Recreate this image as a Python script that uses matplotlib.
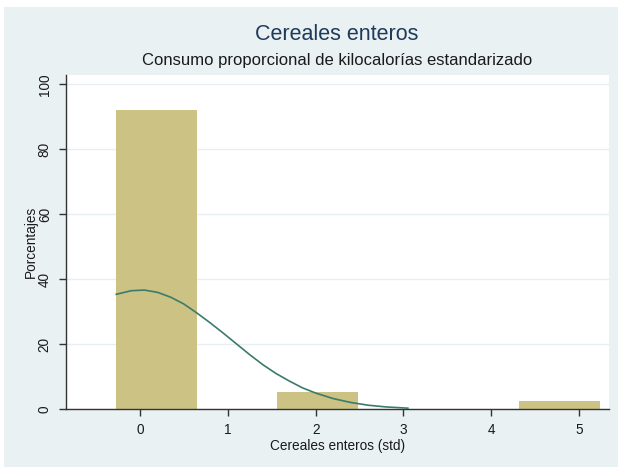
import numpy as np
import matplotlib.pyplot as plt
from matplotlib.patches import Rectangle

# Histogram bins (left edges), bin width and percentage per bin
bin_edges = [-0.27, 0.647, 1.564, 2.481, 3.398, 4.315]
bin_width = 0.917
percent = [92.0, 0.0, 5.4, 0.0, 0.0, 2.6]

# Normal density overlay, read in percent units
curve_x = [-0.27, -0.1, 0.05, 0.2, 0.35, 0.5, 0.65, 0.8, 0.95, 1.1, 1.25, 1.4,
           1.55, 1.7, 1.85, 2.0, 2.2, 2.4, 2.6, 2.8, 3.05]
curve_y = [35.4, 36.5, 36.7, 36.0, 34.5, 32.4, 29.6, 26.6, 23.4, 20.1, 16.8,
           13.7, 11.0, 8.7, 6.6, 5.0, 3.3, 2.1, 1.25, 0.73, 0.35]

xticks = [0, 1, 2, 3, 4, 5]
yticks = [0, 20, 40, 60, 80, 100]

plt.rcParams['font.family'] = ['Liberation Sans', 'DejaVu Sans']

bg = '#e9f1f3'
fig = plt.figure(figsize=(6.18, 4.67), dpi=100)
fig.patch.set_facecolor('white')
fig.patches.append(Rectangle((4 / 618, 0), 1, 460 / 467, transform=fig.transFigure,
                             facecolor=bg, edgecolor='none', zorder=-10))

ax = fig.add_axes([65.7 / 618, (467 - 409.3) / 467, (609 - 65.7) / 618, (409.3 - 75) / 467])
ax.set_facecolor('white')

ax.bar(bin_edges, percent, width=bin_width, align='edge', color='#cbc283',
       edgecolor='none', zorder=2)
ax.plot(curve_x, curve_y, color='#3b7b6c', lw=1.2, zorder=3)

ax.set_xlim(-0.846, 5.34)
ax.set_ylim(0, 102.9)
ax.set_xticks(xticks)
ax.set_yticks(yticks)
ax.set_yticklabels([str(t) for t in yticks], rotation=90, va='center')
ax.grid(axis='y', color='#e6eef1', lw=1.0, zorder=1)
ax.set_axisbelow(True)

for s in ['top', 'right']:
    ax.spines[s].set_visible(False)
for s in ['left', 'bottom']:
    ax.spines[s].set_color('#333333')
    ax.spines[s].set_linewidth(1.0)
ax.tick_params(length=5, width=1, color='#333333', labelsize=9.8,
               labelcolor='#1a1a1a', pad=5)

ax.set_xlabel('Cereales enteros (std)', fontsize=9.8, color='#1a1a1a', labelpad=1)
ax.set_ylabel('Porcentajes', fontsize=9.8, color='#1a1a1a', labelpad=0)

fig.text(337 / 618, 1 - 35 / 467, 'Cereales enteros', ha='center', va='center',
         fontsize=15.5, color='#1f3b5a')
fig.text(337 / 618, 1 - 60 / 467, 'Consumo proporcional de kilocalorías estandarizado',
         ha='center', va='center', fontsize=12, color='#1a1a1a')

fig.savefig('out.png', dpi=100, facecolor=fig.get_facecolor())
